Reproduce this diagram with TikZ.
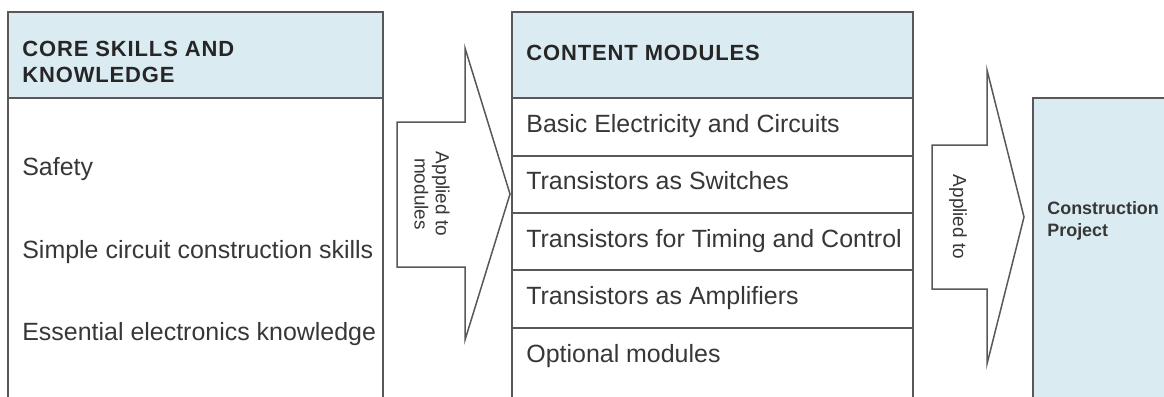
\documentclass[tikz,border=0pt]{standalone}
\usepackage{fontspec}
\setmainfont{Liberation Sans}
\newfontfamily\headfont[LetterSpace=4]{Liberation Sans}
\usetikzlibrary{calc,positioning}
\definecolor{headblue}{RGB}{218,236,242}
\definecolor{linegray}{RGB}{88,88,88}
\definecolor{textgray}{RGB}{55,55,55}
\tikzset{
  box/.style={draw=linegray, line width=0.3mm},
  item/.style={anchor=base west, inner sep=0pt, text=textgray, font=\fontsize{14.2}{17}\selectfont},
  title/.style={inner sep=0pt, align=left, text=black!85, font=\headfont\bfseries\fontsize{12.5}{14.8}\selectfont},
  arrowtext/.style={rotate=-90, inner sep=0pt, align=center, text=textgray, font=\fontsize{10.8}{12}\selectfont},
  blockarrow/.style={draw=linegray, line width=0.3mm, fill=white},
}
\begin{document}
\begin{tikzpicture}[x=0.2mm,y=-0.2mm]
			\useasboundingbox (0,0) rectangle (1164,396);
			
			% core skills column
			\coordinate (CA) at (8,12);
			\coordinate (CB) at (383,12);
			\coordinate (CH) at (8,98);
			\fill[headblue] (CA) rectangle (383,98);
			\draw[box] (8,400) -- (CA) -- (CB) -- (383,400);
			\draw[box] (CH) -- (383,98);
			\node[title, anchor=north west] (coretitle) at (22,41) {CORE SKILLS AND\\KNOWLEDGE};
			\node[item] (safety) at (22,175) {Safety};
			\node[item] (simple) at (22,258) {Simple circuit construction skills};
			\node[item] (essential) at (22,340) {Essential electronics knowledge};
			
			% first block arrow
			\coordinate (P) at (510,194);
			\draw[blockarrow] (397,122) -- (465,122) -- (465,48) -- (P) -- (465,340) -- (465,267) -- (397,267) -- cycle;
			\node[arrowtext] (applymod) at (432,194) {Applied to\\modules};
			
			% content modules column
			\coordinate (MA) at (512,12);
			\coordinate (MB) at (913,12);
			\fill[headblue] (MA) rectangle (913,98);
			\draw[box] (512,400) -- (MA) -- (MB) -- (913,400);
			\foreach \y in {98,156,213,270,328}
				\draw[box] (512,\y) -- (913,\y);
			\node[title, anchor=base west] (modtitle) at (526,60) {CONTENT MODULES};
			\foreach \t [count=\i] in {Basic Electricity and Circuits, Transistors as Switches,
				Transistors for Timing and Control, Transistors as Amplifiers, Optional modules}
				\node[item] (mod\i) at (526,{132+57.5*(\i-1)}) {\t};
			
			% second block arrow
			\coordinate (Q) at (1024,217);
			\draw[blockarrow] (932,145) -- (987,145) -- (987,70) -- (Q) -- (987,364) -- (987,289) -- (932,289) -- cycle;
			\node[arrowtext] (applyproj) at (958,217) {Applied to};
			
			% project box
			\coordinate (R) at (1033,98);
			\fill[headblue] (R) rectangle (1170,400);
			\draw[box] (1033,400) -- (R) -- (1170,98);
			\node[anchor=west, inner sep=0pt, align=left, text=textgray,
				font=\bfseries\fontsize{10.2}{12.3}\selectfont] (project) at (1047,221) {Construction\\Project};
		\end{tikzpicture}
\end{document}
